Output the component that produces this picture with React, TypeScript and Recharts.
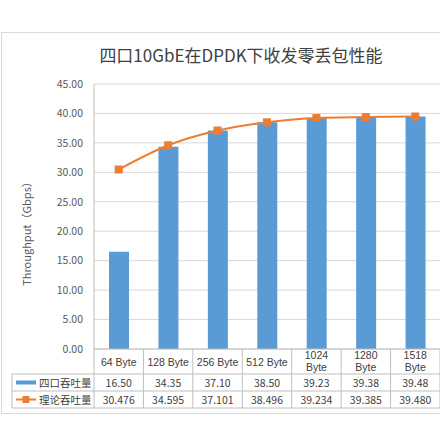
import { ComposedChart, Bar, Line, XAxis, YAxis, CartesianGrid, Label } from 'recharts';

const categories = ['64 Byte', '128 Byte', '256 Byte', '512 Byte', '1024 Byte', '1280 Byte', '1518 Byte'];
const portThroughput = [16.5, 34.35, 37.1, 38.5, 39.23, 39.38, 39.48];
const theoryThroughput = [30.476, 34.595, 37.101, 38.496, 39.234, 39.385, 39.48];
const yTicks = [0, 5, 10, 15, 20, 25, 30, 35, 40, 45];

const BAR_NAME = '四口吞吐量';
const LINE_NAME = '理论吞吐量';

const data = categories.map((name, i) => ({
  name,
  port: portThroughput[i],
  theory: theoryThroughput[i],
}));

const FONT = '"Noto Sans CJK SC", "Noto Sans", sans-serif';
const LATIN = '"Liberation Sans", "Noto Sans", sans-serif';
const W = 440;
const H = 440;
const PLOT_LEFT = 94;
const PLOT_TOP = 84;
const PLOT_BOTTOM = 349;
const BAND = (W - PLOT_LEFT) / categories.length;
const ROW1 = 374;
const ROW2 = 391;
const ROW3 = 408;
const LEGEND_LEFT = 12;
const BORDER = '#bfbfbf';
const TEXT = '#404040';

function TableTick(props: any) {
  const { x, payload, index } = props;
  const i = index ?? categories.indexOf(payload.value);
  const left = x - BAND / 2;
  const right = x + BAND / 2;
  const label: string = payload.value;
  const lines = label.length > 8 ? label.split(' ') : [label];
  return (
    <g fontFamily={FONT} fontSize={10.5} fill={TEXT}>
      <line x1={right} y1={PLOT_BOTTOM} x2={right} y2={ROW3} stroke={BORDER} />
      {i === 0 && <line x1={left} y1={PLOT_BOTTOM} x2={left} y2={ROW3} stroke={BORDER} />}
      {[ROW1, ROW2, ROW3].map((yy) => (
        <line key={yy} x1={left} y1={yy} x2={right} y2={yy} stroke={BORDER} />
      ))}
      <g fontFamily={LATIN}>
        {lines.length === 1 ? (
          <text x={x} y={362} textAnchor="middle" dominantBaseline="central">
            {lines[0]}
          </text>
        ) : (
          lines.map((t, k) => (
            <text key={k} x={x} y={355 + k * 12} textAnchor="middle" dominantBaseline="central">
              {t}
            </text>
          ))
        )}
      </g>
      <text x={x} y={(ROW1 + ROW2) / 2} textAnchor="middle" dominantBaseline="central">
        {portThroughput[i].toFixed(2)}
      </text>
      <text x={x} y={(ROW2 + ROW3) / 2} textAnchor="middle" dominantBaseline="central">
        {theoryThroughput[i].toFixed(3)}
      </text>
      {i === 0 && (
        <g>
          <line x1={LEGEND_LEFT} y1={ROW1} x2={LEGEND_LEFT} y2={ROW3} stroke={BORDER} />
          {[ROW1, ROW2, ROW3].map((yy) => (
            <line key={'l' + yy} x1={LEGEND_LEFT} y1={yy} x2={left} y2={yy} stroke={BORDER} />
          ))}
          <rect x={16} y={(ROW1 + ROW2) / 2 - 2} width={20} height={4} fill="#5B9BD5" />
          <text x={39} y={(ROW1 + ROW2) / 2} dominantBaseline="central">
            {BAR_NAME}
          </text>
          <line x1={16} y1={(ROW2 + ROW3) / 2} x2={36} y2={(ROW2 + ROW3) / 2} stroke="#ED7D31" strokeWidth={2} />
          <rect x={22.5} y={(ROW2 + ROW3) / 2 - 3.5} width={7} height={7} fill="#ED7D31" />
          <text x={39} y={(ROW2 + ROW3) / 2} dominantBaseline="central">
            {LINE_NAME}
          </text>
        </g>
      )}
    </g>
  );
}

function SquareDot(props: any) {
  const { cx, cy } = props;
  if (cx == null || cy == null) return null;
  return <rect x={cx - 4} y={cy - 4} width={8} height={8} fill="#ED7D31" />;
}

export default function App() {
  return (
    <div
      style={{
        position: 'absolute',
        left: 0,
        top: 0,
        width: W,
        height: H,
        overflow: 'hidden',
        background: '#fff',
        fontFamily: FONT,
      }}
    >
      <div
        style={{
          position: 'absolute',
          left: 1,
          top: 32,
          width: 480,
          height: 382,
          border: '1px solid #d9d9d9',
          boxSizing: 'border-box',
        }}
      />
      <div
        style={{
          position: 'absolute',
          left: 0,
          top: 43,
          width: 482,
          textAlign: 'center',
          fontSize: 17,
          color: TEXT,
          lineHeight: '24px',
        }}
      >
        四口10GbE在DPDK下收发零丢包性能
      </div>
      <div style={{ position: 'absolute', left: 0, top: 0 }}>
        <ComposedChart
          width={W}
          height={H}
          data={data}
          margin={{ top: PLOT_TOP, right: 0, bottom: 0, left: 0 }}
        >
          <CartesianGrid vertical={false} stroke="#d9d9d9" />
          <XAxis
            dataKey="name"
            height={H - PLOT_BOTTOM}
            axisLine={{ stroke: BORDER }}
            tickLine={false}
            tickSize={0}
            tickMargin={0}
            interval={0}
            tick={(p: any) => <TableTick {...p} />}
          />
          <YAxis
            width={PLOT_LEFT}
            domain={[0, 45]}
            ticks={yTicks}
            tickFormatter={(v: number) => v.toFixed(2)}
            axisLine={{ stroke: BORDER }}
            tickLine={false}
            tickSize={0}
            tickMargin={11}
            tick={{ fontSize: 10.5, fill: '#595959', fontFamily: FONT }}
          >
            <Label
              content={() => (
                <text
                  x={26}
                  y={231}
                  transform="rotate(-90 26 231)"
                  textAnchor="middle"
                  dominantBaseline="central"
                  fontSize={11}
                  fill="#595959"
                  fontFamily={FONT}
                >
                  Throughput（Gbps）
                </text>
              )}
            />
          </YAxis>
          <Bar dataKey="port" name={BAR_NAME} fill="#5B9BD5" barSize={20} isAnimationActive={false} />
          <Line
            type="monotone"
            dataKey="theory"
            name={LINE_NAME}
            stroke="#ED7D31"
            strokeWidth={2}
            dot={<SquareDot />}
            activeDot={false}
            isAnimationActive={false}
          />
        </ComposedChart>
      </div>
    </div>
  );
}
